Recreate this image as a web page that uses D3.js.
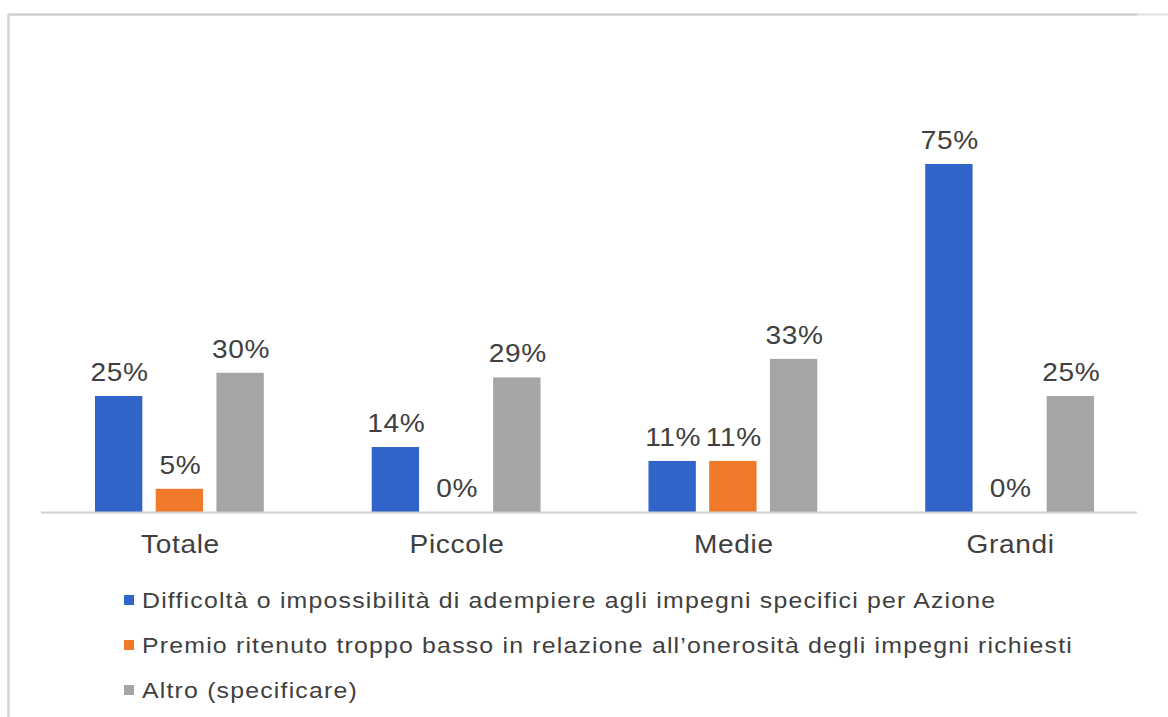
<!DOCTYPE html>
<html>
<head>
<meta charset="utf-8">
<script src="https://cdn.jsdelivr.net/npm/d3@7"></script>
<style>
  body { margin: 0; background: #fff; }
  text { font-family: "Liberation Sans", Arial, sans-serif; fill: #404040; }
</style>
</head>
<body>
<script>
const w = 1168
const h = 717

const categories = ['Totale', 'Piccole', 'Medie', 'Grandi']
const seriesNames = [
    'Difficoltà o impossibilità di adempiere agli impegni specifici per Azione',
    'Premio ritenuto troppo basso in relazione all\u2019onerosità degli impegni richiesti',
    'Altro (specificare)'
]
const difficolta = [25, 14, 11, 75]
const premio = [5, 0, 11, 0]
const altro = [30, 29, 33, 25]
const colors = ['#3164c8', '#f07a2a', '#a5a5a5']

const seriesValues = [difficolta, premio, altro]

const svg = d3.select('body')
    .append('svg')
    .attr('width', w)
    .attr('height', h)

// frame of the pasted image
svg.append('line')
    .attr('x1', 8).attr('x2', 1137).attr('y1', 14.5).attr('y2', 14.5)
    .attr('stroke', '#d0d0d0').attr('stroke-width', 2.5)
svg.append('line')
    .attr('x1', 1137).attr('x2', w).attr('y1', 14.5).attr('y2', 14.5)
    .attr('stroke', '#e6e6e6').attr('stroke-width', 2.5)
svg.append('line')
    .attr('x1', 8.5).attr('x2', 8.5).attr('y1', 14).attr('y2', h)
    .attr('stroke', '#d2d2d2').attr('stroke-width', 2.5)

const x0 = d3.scaleBand()
    .domain(categories)
    .range([41, 1148])
    .paddingInner(0.39)
    .paddingOuter(0.195)

const x1 = d3.scaleBand()
    .domain(d3.range(seriesNames.length))
    .range([0, x0.bandwidth()])
    .paddingInner(0.22)

const yScale = d3.scaleLinear()
    .domain([0, 100])
    .range([512, 48])

const rows = []
categories.forEach(function (c, i) {
    seriesValues.forEach(function (vals, s) {
        rows.push({ cat: c, s: s, v: vals[i] })
    })
})

svg.selectAll('rect.bar')
    .data(rows)
    .enter()
    .append('rect')
    .attr('class', 'bar')
    .attr('x', function (d) { return x0(d.cat) + x1(d.s) })
    .attr('y', function (d) { return yScale(d.v) })
    .attr('width', x1.bandwidth())
    .attr('height', function (d) { return yScale(0) - yScale(d.v) })
    .attr('fill', function (d) { return colors[d.s] })

// value labels, glyphs slightly stretched like the pasted picture
svg.selectAll('text.val')
    .data(rows)
    .enter()
    .append('text')
    .attr('class', 'val')
    .attr('transform', function (d) {
        return `translate(${x0(d.cat) + x1(d.s) + x1.bandwidth() / 2 + 1},${yScale(d.v) - 15}) scale(1.08,1)`
    })
    .attr('text-anchor', 'middle')
    .style('font-size', '26px')
    .style('letter-spacing', '0.6px')
    .text(function (d) { return d.v + '%' })

// x axis
const xAxisGen = d3.axisBottom(x0).tickSize(0).tickPadding(0)
const xAxis = svg.append('g')
    .attr('transform', `translate(0,${yScale(0)})`)
    .call(xAxisGen)
xAxis.select('.domain')
    .attr('d', `M41,0.5H1137`)
    .attr('stroke', '#d0d0d0')
    .attr('stroke-width', 2)
xAxis.selectAll('.tick text')
    .attr('y', 0)
    .attr('dy', 0)
    .attr('transform', 'translate(1,41) scale(1.08,1)')
    .style('font-size', '26px')
    .style('letter-spacing', '0.6px')
    .style('font-family', '"Liberation Sans", Arial, sans-serif')
    .attr('fill', '#404040')

// legend
const legend = svg.selectAll('g.legend')
    .data(seriesNames)
    .enter()
    .append('g')
    .attr('class', 'legend')
    .attr('transform', function (d, i) { return `translate(124,${608 + i * 45})` })

legend.append('rect')
    .attr('x', 0)
    .attr('y', -13)
    .attr('width', 10)
    .attr('height', 10)
    .attr('fill', function (d, i) { return colors[i] })

legend.append('text')
    .attr('transform', 'translate(18,0) scale(1.13,1)')
    .style('font-size', '22px')
    .style('letter-spacing', '1.05px')
    .text(function (d) { return d })
</script>
</body>
</html>
